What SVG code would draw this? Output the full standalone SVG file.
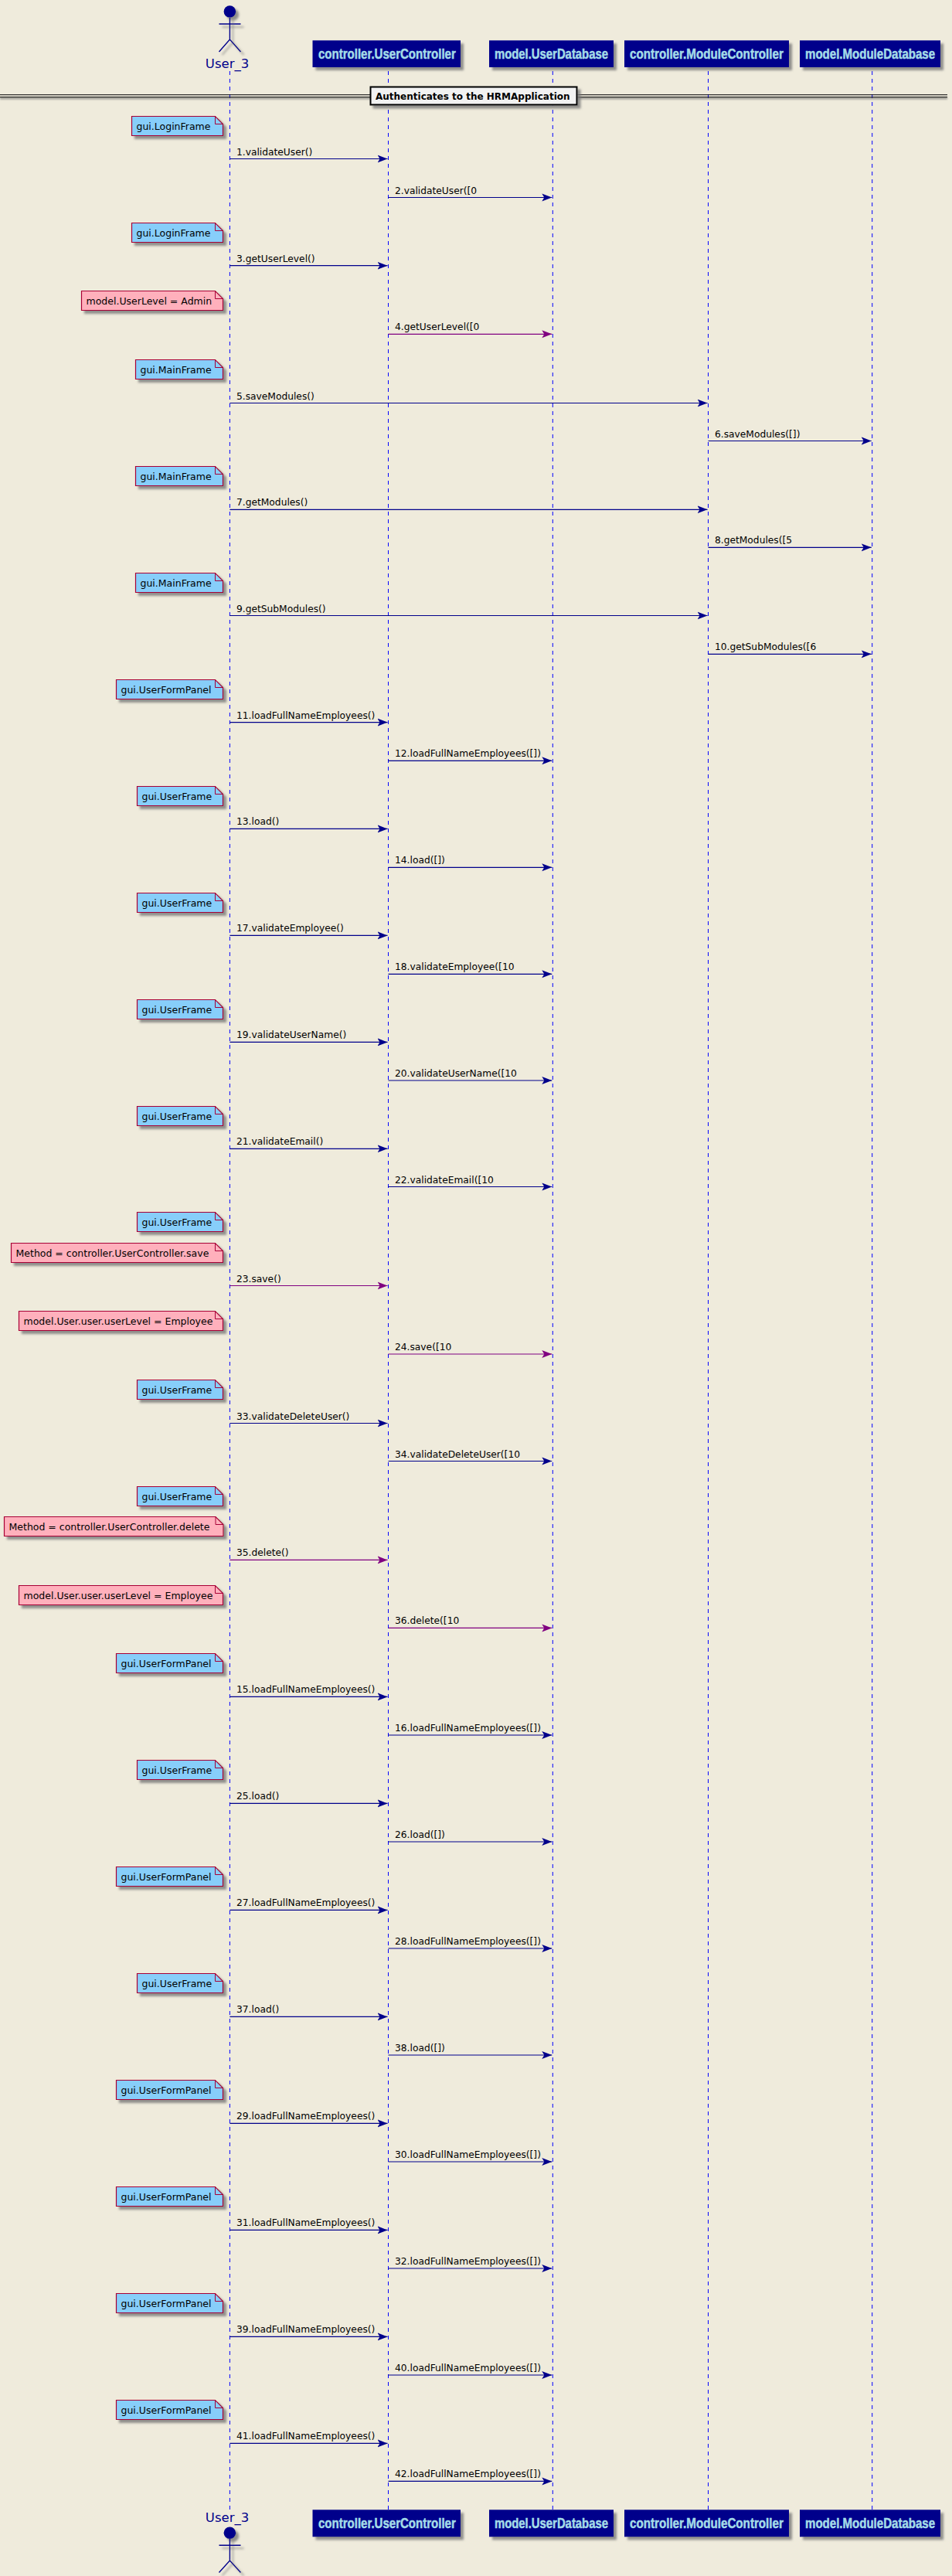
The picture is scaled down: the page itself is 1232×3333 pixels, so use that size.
<svg xmlns="http://www.w3.org/2000/svg" width="1232" height="3333" viewBox="0 0 1232 3333">
<style>
text{font-family:"DejaVu Sans","Liberation Sans",sans-serif;font-size:12.5px;fill:#000}
#connectors text{font-size:12.25px}
.life{stroke:#0000FF;stroke-width:1;stroke-dasharray:5 5}
.msg{stroke:#00008B;stroke-width:1.2;marker-end:url(#ab)}
.pm{stroke:#800080;stroke-width:1.2;marker-end:url(#ap)}
.nb{fill:#87CEFA;stroke:#A80036;stroke-width:1.2;filter:url(#sh)}
.np{fill:#FFB0BC;stroke:#A80036;stroke-width:1.2;filter:url(#sh)}
.fold{fill:none;stroke:#A80036;stroke-width:1}
.pbox{fill:#00008B;filter:url(#sh)}
.pt{font-family:"Liberation Sans",sans-serif;font-weight:bold;font-size:18px;fill:#A4DCE8;stroke:#A4DCE8;stroke-width:.5}
.at{font-size:16.5px;fill:#00008B;text-anchor:middle}
.act{stroke:#00008B;stroke-width:1.4;fill:none}
.div{stroke:#000;stroke-width:1}
.dt{font-weight:bold;font-size:12px}
</style>
<defs>
<filter id="sh" x="-15%" y="-30%" width="135%" height="170%"><feDropShadow dx="4" dy="4" stdDeviation="1.8" flood-color="#777" flood-opacity=".8"/></filter>
<filter id="bl" filterUnits="userSpaceOnUse" x="0" y="110" width="1232" height="40"><feGaussianBlur stdDeviation="1.2"/></filter>
<marker id="ab" markerUnits="userSpaceOnUse" markerWidth="14" markerHeight="12" refX="13" refY="6" orient="auto"><path d="M13 6L0 1L3 6L0 11Z" fill="#00008B"/></marker>
<marker id="ap" markerUnits="userSpaceOnUse" markerWidth="14" markerHeight="12" refX="13" refY="6" orient="auto"><path d="M13 6L0 1L3 6L0 11Z" fill="#800080"/></marker>
</defs>
<rect width="1232" height="3333" fill="#EFEBDC"/>
<g id="lifelines">
<line class="life" x1="297.4" y1="92" x2="297.4" y2="3247"/>
<line class="life" x1="502.5" y1="92" x2="502.5" y2="3247"/>
<line class="life" x1="715.3" y1="92" x2="715.3" y2="3247"/>
<line class="life" x1="916.5" y1="92" x2="916.5" y2="3247"/>
<line class="life" x1="1128.7" y1="92" x2="1128.7" y2="3247"/>
</g>
<g id="actor-top">
<g filter="url(#sh)"><ellipse cx="297.4" cy="15" rx="7.8" ry="7.8" fill="#00008B"/><path class="act" d="M297.4 23V51M283.5 31H311.5M283.5 67L297.4 51L311.5 67"/></g>
<text class="at" x="294" y="88">User_3</text>
</g>
<g id="p-usercontroller-top"><rect class="pbox" x="404.5" y="52.3" width="191.5" height="34.7"/><text class="pt" transform="matrix(.88 0 0 1 412 75.5)" textLength="202" lengthAdjust="spacingAndGlyphs">controller.UserController</text></g>
<g id="p-userdatabase-top"><rect class="pbox" x="633" y="52.3" width="161" height="34.7"/><text class="pt" transform="matrix(.88 0 0 1 640 75.5)" textLength="167" lengthAdjust="spacingAndGlyphs">model.UserDatabase</text></g>
<g id="p-modulecontroller-top"><rect class="pbox" x="808" y="52.3" width="213" height="34.7"/><text class="pt" transform="matrix(.88 0 0 1 815 75.5)" textLength="226" lengthAdjust="spacingAndGlyphs">controller.ModuleController</text></g>
<g id="p-moduledatabase-top"><rect class="pbox" x="1035" y="52.3" width="182" height="34.7"/><text class="pt" transform="matrix(.88 0 0 1 1042 75.5)" textLength="191" lengthAdjust="spacingAndGlyphs">model.ModuleDatabase</text></g>
<g id="divider">
<rect x="0" y="126" width="1226" height="2.5" fill="#777" opacity=".7" filter="url(#bl)"/>
<line class="div" x1="0" y1="122.7" x2="1226" y2="122.7"/>
<line class="div" x1="0" y1="125.7" x2="1226" y2="125.7"/>
<rect x="479.5" y="112.5" width="267" height="23" fill="#F2F2F2" stroke="#000" stroke-width="2" filter="url(#sh)"/>
<text class="dt" x="486" y="128.5">Authenticates to the HRMApplication</text>
</g>
<g id="connectors">
<line class="msg" x1="297.4" y1="205.5" x2="501.5" y2="205.5"/><text x="306" y="200.5">1.validateUser()</text>
<line class="msg" x1="502.5" y1="255.5" x2="714.3" y2="255.5"/><text x="511" y="250.5">2.validateUser([0</text>
<line class="msg" x1="297.4" y1="343.7" x2="501.5" y2="343.7"/><text x="306" y="338.7">3.getUserLevel()</text>
<line class="pm" x1="502.5" y1="432.3" x2="714.3" y2="432.3"/><text x="511" y="427.3">4.getUserLevel([0</text>
<line class="msg" x1="297.4" y1="521.5" x2="915.5" y2="521.5"/><text x="306" y="516.5">5.saveModules()</text>
<line class="msg" x1="916.5" y1="570.5" x2="1127.7" y2="570.5"/><text x="925" y="565.5">6.saveModules([])</text>
<line class="msg" x1="297.4" y1="659.3" x2="915.5" y2="659.3"/><text x="306" y="654.3">7.getModules()</text>
<line class="msg" x1="916.5" y1="708.3" x2="1127.7" y2="708.3"/><text x="925" y="703.3">8.getModules([5</text>
<line class="msg" x1="297.4" y1="796.5" x2="915.5" y2="796.5"/><text x="306" y="791.5">9.getSubModules()</text>
<line class="msg" x1="916.5" y1="846.3" x2="1127.7" y2="846.3"/><text x="925" y="841.3">10.getSubModules([6</text>
<line class="msg" x1="297.4" y1="934.6" x2="501.5" y2="934.6"/><text x="306" y="929.6">11.loadFullNameEmployees()</text>
<line class="msg" x1="502.5" y1="984.3" x2="714.3" y2="984.3"/><text x="511" y="979.3">12.loadFullNameEmployees([])</text>
<line class="msg" x1="297.4" y1="1072.4" x2="501.5" y2="1072.4"/><text x="306" y="1067.4">13.load()</text>
<line class="msg" x1="502.5" y1="1122.3" x2="714.3" y2="1122.3"/><text x="511" y="1117.3">14.load([])</text>
<line class="msg" x1="297.4" y1="1210.4" x2="501.5" y2="1210.4"/><text x="306" y="1205.4">17.validateEmployee()</text>
<line class="msg" x1="502.5" y1="1260.3" x2="714.3" y2="1260.3"/><text x="511" y="1255.3">18.validateEmployee([10</text>
<line class="msg" x1="297.4" y1="1348.4" x2="501.5" y2="1348.4"/><text x="306" y="1343.4">19.validateUserName()</text>
<line class="msg" x1="502.5" y1="1398" x2="714.3" y2="1398"/><text x="511" y="1393">20.validateUserName([10</text>
<line class="msg" x1="297.4" y1="1486.3" x2="501.5" y2="1486.3"/><text x="306" y="1481.3">21.validateEmail()</text>
<line class="msg" x1="502.5" y1="1535.5" x2="714.3" y2="1535.5"/><text x="511" y="1530.5">22.validateEmail([10</text>
<line class="pm" x1="297.4" y1="1663.5" x2="501.5" y2="1663.5"/><text x="306" y="1658.5">23.save()</text>
<line class="pm" x1="502.5" y1="1752" x2="714.3" y2="1752"/><text x="511" y="1747">24.save([10</text>
<line class="msg" x1="297.4" y1="1841.5" x2="501.5" y2="1841.5"/><text x="306" y="1836.5">33.validateDeleteUser()</text>
<line class="msg" x1="502.5" y1="1890.5" x2="714.3" y2="1890.5"/><text x="511" y="1885.5">34.validateDeleteUser([10</text>
<line class="pm" x1="297.4" y1="2018.4" x2="501.5" y2="2018.4"/><text x="306" y="2013.4">35.delete()</text>
<line class="pm" x1="502.5" y1="2106.4" x2="714.3" y2="2106.4"/><text x="511" y="2101.4">36.delete([10</text>
<line class="msg" x1="297.4" y1="2195.4" x2="501.5" y2="2195.4"/><text x="306" y="2190.4">15.loadFullNameEmployees()</text>
<line class="msg" x1="502.5" y1="2245" x2="714.3" y2="2245"/><text x="511" y="2240">16.loadFullNameEmployees([])</text>
<line class="msg" x1="297.4" y1="2333.4" x2="501.5" y2="2333.4"/><text x="306" y="2328.4">25.load()</text>
<line class="msg" x1="502.5" y1="2383" x2="714.3" y2="2383"/><text x="511" y="2378">26.load([])</text>
<line class="msg" x1="297.4" y1="2471.4" x2="501.5" y2="2471.4"/><text x="306" y="2466.4">27.loadFullNameEmployees()</text>
<line class="msg" x1="502.5" y1="2521" x2="714.3" y2="2521"/><text x="511" y="2516">28.loadFullNameEmployees([])</text>
<line class="msg" x1="297.4" y1="2609.4" x2="501.5" y2="2609.4"/><text x="306" y="2604.4">37.load()</text>
<line class="msg" x1="502.5" y1="2659" x2="714.3" y2="2659"/><text x="511" y="2654">38.load([])</text>
<line class="msg" x1="297.4" y1="2747.4" x2="501.5" y2="2747.4"/><text x="306" y="2742.4">29.loadFullNameEmployees()</text>
<line class="msg" x1="502.5" y1="2797" x2="714.3" y2="2797"/><text x="511" y="2792">30.loadFullNameEmployees([])</text>
<line class="msg" x1="297.4" y1="2885.4" x2="501.5" y2="2885.4"/><text x="306" y="2880.4">31.loadFullNameEmployees()</text>
<line class="msg" x1="502.5" y1="2935" x2="714.3" y2="2935"/><text x="511" y="2930">32.loadFullNameEmployees([])</text>
<line class="msg" x1="297.4" y1="3023.4" x2="501.5" y2="3023.4"/><text x="306" y="3018.4">39.loadFullNameEmployees()</text>
<line class="msg" x1="502.5" y1="3073" x2="714.3" y2="3073"/><text x="511" y="3068">40.loadFullNameEmployees([])</text>
<line class="msg" x1="297.4" y1="3161.4" x2="501.5" y2="3161.4"/><text x="306" y="3156.4">41.loadFullNameEmployees()</text>
<line class="msg" x1="502.5" y1="3210.4" x2="714.3" y2="3210.4"/><text x="511" y="3205.4">42.loadFullNameEmployees([])</text>
</g>
<g id="note-1"><path class="nb" d="M170.5 150.5H278.5L288.5 160.5V175.5H170.5Z"/><path class="fold" d="M278.5 150.5V160.5H288.5"/><text x="176.5" y="167.5">gui.LoginFrame</text></g>
<g id="note-2"><path class="nb" d="M170.5 288.5H278.5L288.5 298.5V313.5H170.5Z"/><path class="fold" d="M278.5 288.5V298.5H288.5"/><text x="176.5" y="305.5">gui.LoginFrame</text></g>
<g id="note-3"><path class="np" d="M105.5 376.5H278.5L288.5 386.5V401.5H105.5Z"/><path class="fold" d="M278.5 376.5V386.5H288.5"/><text x="111.5" y="393.5">model.UserLevel = Admin</text></g>
<g id="note-4"><path class="nb" d="M175.5 465.5H278.5L288.5 475.5V490.5H175.5Z"/><path class="fold" d="M278.5 465.5V475.5H288.5"/><text x="181.5" y="482.5">gui.MainFrame</text></g>
<g id="note-5"><path class="nb" d="M175.5 603.5H278.5L288.5 613.5V628.5H175.5Z"/><path class="fold" d="M278.5 603.5V613.5H288.5"/><text x="181.5" y="620.5">gui.MainFrame</text></g>
<g id="note-6"><path class="nb" d="M175.5 741.5H278.5L288.5 751.5V766.5H175.5Z"/><path class="fold" d="M278.5 741.5V751.5H288.5"/><text x="181.5" y="758.5">gui.MainFrame</text></g>
<g id="note-7"><path class="nb" d="M150.5 879.5H278.5L288.5 889.5V904.5H150.5Z"/><path class="fold" d="M278.5 879.5V889.5H288.5"/><text x="156.5" y="896.5">gui.UserFormPanel</text></g>
<g id="note-8"><path class="nb" d="M177.5 1017.5H278.5L288.5 1027.5V1042.5H177.5Z"/><path class="fold" d="M278.5 1017.5V1027.5H288.5"/><text x="183.5" y="1034.5">gui.UserFrame</text></g>
<g id="note-9"><path class="nb" d="M177.5 1155.5H278.5L288.5 1165.5V1180.5H177.5Z"/><path class="fold" d="M278.5 1155.5V1165.5H288.5"/><text x="183.5" y="1172.5">gui.UserFrame</text></g>
<g id="note-10"><path class="nb" d="M177.5 1293.5H278.5L288.5 1303.5V1318.5H177.5Z"/><path class="fold" d="M278.5 1293.5V1303.5H288.5"/><text x="183.5" y="1310.5">gui.UserFrame</text></g>
<g id="note-11"><path class="nb" d="M177.5 1431.5H278.5L288.5 1441.5V1456.5H177.5Z"/><path class="fold" d="M278.5 1431.5V1441.5H288.5"/><text x="183.5" y="1448.5">gui.UserFrame</text></g>
<g id="note-12"><path class="nb" d="M177.5 1568.5H278.5L288.5 1578.5V1593.5H177.5Z"/><path class="fold" d="M278.5 1568.5V1578.5H288.5"/><text x="183.5" y="1585.5">gui.UserFrame</text></g>
<g id="note-13"><path class="np" d="M14.5 1608.5H278.5L288.5 1618.5V1633.5H14.5Z"/><path class="fold" d="M278.5 1608.5V1618.5H288.5"/><text x="20.5" y="1625.5">Method = controller.UserController.save</text></g>
<g id="note-14"><path class="np" d="M24.5 1696.5H278.5L288.5 1706.5V1721.5H24.5Z"/><path class="fold" d="M278.5 1696.5V1706.5H288.5"/><text x="30.5" y="1713.5">model.User.user.userLevel = Employee</text></g>
<g id="note-15"><path class="nb" d="M177.5 1785.5H278.5L288.5 1795.5V1810.5H177.5Z"/><path class="fold" d="M278.5 1785.5V1795.5H288.5"/><text x="183.5" y="1802.5">gui.UserFrame</text></g>
<g id="note-16"><path class="nb" d="M177.5 1923.5H278.5L288.5 1933.5V1948.5H177.5Z"/><path class="fold" d="M278.5 1923.5V1933.5H288.5"/><text x="183.5" y="1940.5">gui.UserFrame</text></g>
<g id="note-17"><path class="np" d="M5.5 1962.5H279L289 1972.5V1987.5H5.5Z"/><path class="fold" d="M279 1962.5V1972.5H289"/><text x="11.5" y="1979.5">Method = controller.UserController.delete</text></g>
<g id="note-18"><path class="np" d="M24.5 2051.5H278.5L288.5 2061.5V2076.5H24.5Z"/><path class="fold" d="M278.5 2051.5V2061.5H288.5"/><text x="30.5" y="2068.5">model.User.user.userLevel = Employee</text></g>
<g id="note-19"><path class="nb" d="M150.5 2139.5H278.5L288.5 2149.5V2164.5H150.5Z"/><path class="fold" d="M278.5 2139.5V2149.5H288.5"/><text x="156.5" y="2156.5">gui.UserFormPanel</text></g>
<g id="note-20"><path class="nb" d="M177.5 2277.5H278.5L288.5 2287.5V2302.5H177.5Z"/><path class="fold" d="M278.5 2277.5V2287.5H288.5"/><text x="183.5" y="2294.5">gui.UserFrame</text></g>
<g id="note-21"><path class="nb" d="M150.5 2415.5H278.5L288.5 2425.5V2440.5H150.5Z"/><path class="fold" d="M278.5 2415.5V2425.5H288.5"/><text x="156.5" y="2432.5">gui.UserFormPanel</text></g>
<g id="note-22"><path class="nb" d="M177.5 2553.5H278.5L288.5 2563.5V2578.5H177.5Z"/><path class="fold" d="M278.5 2553.5V2563.5H288.5"/><text x="183.5" y="2570.5">gui.UserFrame</text></g>
<g id="note-23"><path class="nb" d="M150.5 2691.5H278.5L288.5 2701.5V2716.5H150.5Z"/><path class="fold" d="M278.5 2691.5V2701.5H288.5"/><text x="156.5" y="2708.5">gui.UserFormPanel</text></g>
<g id="note-24"><path class="nb" d="M150.5 2829.5H278.5L288.5 2839.5V2854.5H150.5Z"/><path class="fold" d="M278.5 2829.5V2839.5H288.5"/><text x="156.5" y="2846.5">gui.UserFormPanel</text></g>
<g id="note-25"><path class="nb" d="M150.5 2967.5H278.5L288.5 2977.5V2992.5H150.5Z"/><path class="fold" d="M278.5 2967.5V2977.5H288.5"/><text x="156.5" y="2984.5">gui.UserFormPanel</text></g>
<g id="note-26"><path class="nb" d="M150.5 3105.5H278.5L288.5 3115.5V3130.5H150.5Z"/><path class="fold" d="M278.5 3105.5V3115.5H288.5"/><text x="156.5" y="3122.5">gui.UserFormPanel</text></g>
<g id="actor-bottom">
<text class="at" x="294" y="3263.3">User_3</text>
<g filter="url(#sh)"><ellipse cx="297.4" cy="3277.3" rx="7.8" ry="7.8" fill="#00008B"/><path class="act" d="M297.4 3285V3313M283.5 3293.3H311.5M283.5 3328.5L297.4 3313L311.5 3328.5"/></g>
</g>
<g id="p-usercontroller-bottom"><rect class="pbox" x="404.5" y="3247.3" width="191.5" height="35"/><text class="pt" transform="matrix(.88 0 0 1 412 3271)" textLength="202" lengthAdjust="spacingAndGlyphs">controller.UserController</text></g>
<g id="p-userdatabase-bottom"><rect class="pbox" x="633" y="3247.3" width="161" height="35"/><text class="pt" transform="matrix(.88 0 0 1 640 3271)" textLength="167" lengthAdjust="spacingAndGlyphs">model.UserDatabase</text></g>
<g id="p-modulecontroller-bottom"><rect class="pbox" x="808" y="3247.3" width="213" height="35"/><text class="pt" transform="matrix(.88 0 0 1 815 3271)" textLength="226" lengthAdjust="spacingAndGlyphs">controller.ModuleController</text></g>
<g id="p-moduledatabase-bottom"><rect class="pbox" x="1035" y="3247.3" width="182" height="35"/><text class="pt" transform="matrix(.88 0 0 1 1042 3271)" textLength="191" lengthAdjust="spacingAndGlyphs">model.ModuleDatabase</text></g>
</svg>
